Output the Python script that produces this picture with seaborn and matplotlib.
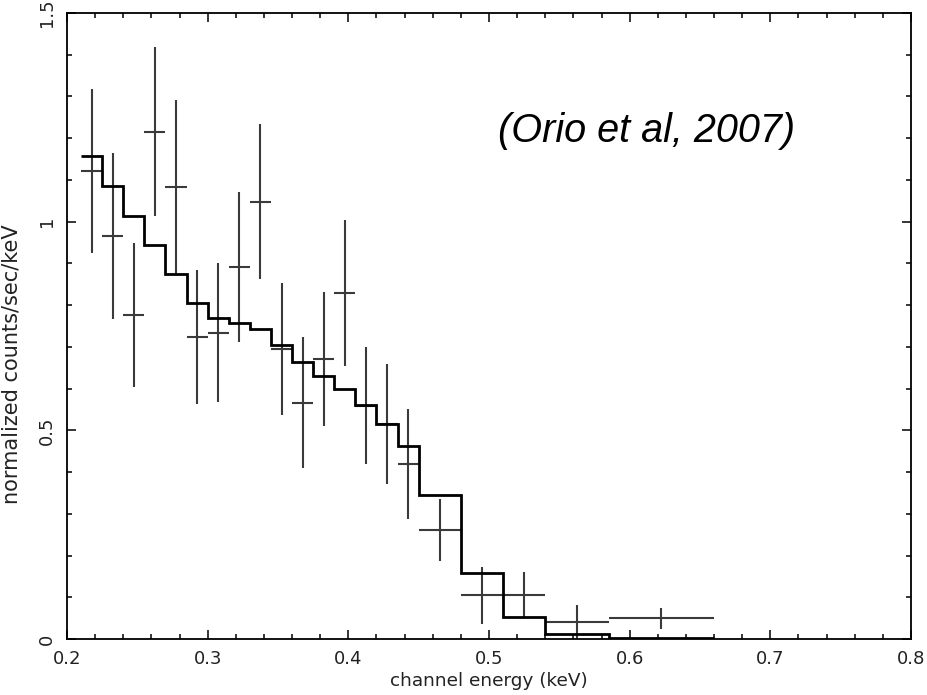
import numpy as np
import matplotlib
matplotlib.use("Agg")
import matplotlib.pyplot as plt
import seaborn as sns
from matplotlib.ticker import MultipleLocator, FixedLocator, FixedFormatter

# ---- data ----
bin_edges = [0.210, 0.225, 0.240, 0.255, 0.270, 0.285, 0.300, 0.315, 0.330,
             0.345, 0.360, 0.375, 0.390, 0.405, 0.420, 0.435, 0.450, 0.480,
             0.510, 0.540, 0.585, 0.660]
model_counts = [1.158, 1.086, 1.014, 0.943, 0.874, 0.806, 0.768, 0.758, 0.742,
                0.705, 0.663, 0.629, 0.598, 0.561, 0.515, 0.463, 0.345, 0.159,
                0.0535, 0.011, 0.003]
data_counts = [1.122, 0.966, 0.776, 1.216, 1.082, 0.723, 0.734, 0.892, 1.048,
               0.694, 0.566, 0.671, 0.828, 0.559, 0.515, 0.420, 0.261, 0.105,
               0.105, 0.0415, 0.0496]
data_errors = [0.197, 0.199, 0.173, 0.203, 0.210, 0.161, 0.166, 0.180, 0.185,
               0.158, 0.157, 0.160, 0.175, 0.140, 0.143, 0.132, 0.075, 0.068,
               0.055, 0.041, 0.025]
x_ticks = [0.2, 0.3, 0.4, 0.5, 0.6, 0.7, 0.8]
x_tick_labels = ["0.2", "0.3", "0.4", "0.5", "0.6", "0.7", "0.8"]
y_ticks = [0, 0.5, 1, 1.5]
y_tick_labels = ["0", "0.5", "1", "1.5"]

sns.set_theme(style="ticks")
plt.rcParams['font.family'] = ['DejaVu Sans']

fig = plt.figure(figsize=(9.27, 6.95), dpi=100)
ax = fig.add_axes([67/927, 1-639/695, (911-67)/927, (639-13)/695])

edges = np.array(bin_edges)
centers = (edges[:-1] + edges[1:]) / 2
halfw = (edges[1:] - edges[:-1]) / 2

ax.errorbar(centers, data_counts, xerr=halfw, yerr=data_errors, fmt='none',
            ecolor='#3a3a3a', elinewidth=1.5, capsize=0, zorder=2)
ax.stairs(model_counts, edges, baseline=None, color='black', linewidth=2.0,
          zorder=3)

ax.set_xlim(0.2, 0.8)
ax.set_ylim(0, 1.5)

ax.xaxis.set_major_locator(FixedLocator(x_ticks))
ax.xaxis.set_major_formatter(FixedFormatter(x_tick_labels))
ax.xaxis.set_minor_locator(MultipleLocator(0.02))
ax.yaxis.set_major_locator(FixedLocator(y_ticks))
ax.yaxis.set_major_formatter(FixedFormatter(y_tick_labels))
ax.yaxis.set_minor_locator(MultipleLocator(0.1))

for s in ax.spines.values():
    s.set_linewidth(1.3)
    s.set_color('black')
    s.set_visible(True)

ax.tick_params(which='both', direction='in', top=True, right=True,
               color='black', width=1.1)
ax.tick_params(which='major', length=6.5, labelsize=13, pad=8,
               labelcolor='#222222')
ax.tick_params(which='minor', length=3.6)
for lab in ax.get_yticklabels():
    lab.set_rotation(90)
    lab.set_va('center')

fig.text(489/927, 1-681/695, "channel energy (keV)", ha='center', va='center',
         fontsize=13.3, color='#222222')
fig.text(12/927, 1-364/695, "normalized counts/sec/keV", ha='center',
         va='center', rotation=90, fontsize=15, color='#222222')

fig.text(498/927, 1-142/695, "(Orio et al, 2007)", ha='left', va='baseline',
         fontsize=28.5, style='italic',
         family=['Liberation Sans', 'DejaVu Sans'], color='black')

fig.savefig("out.png", dpi=100)
